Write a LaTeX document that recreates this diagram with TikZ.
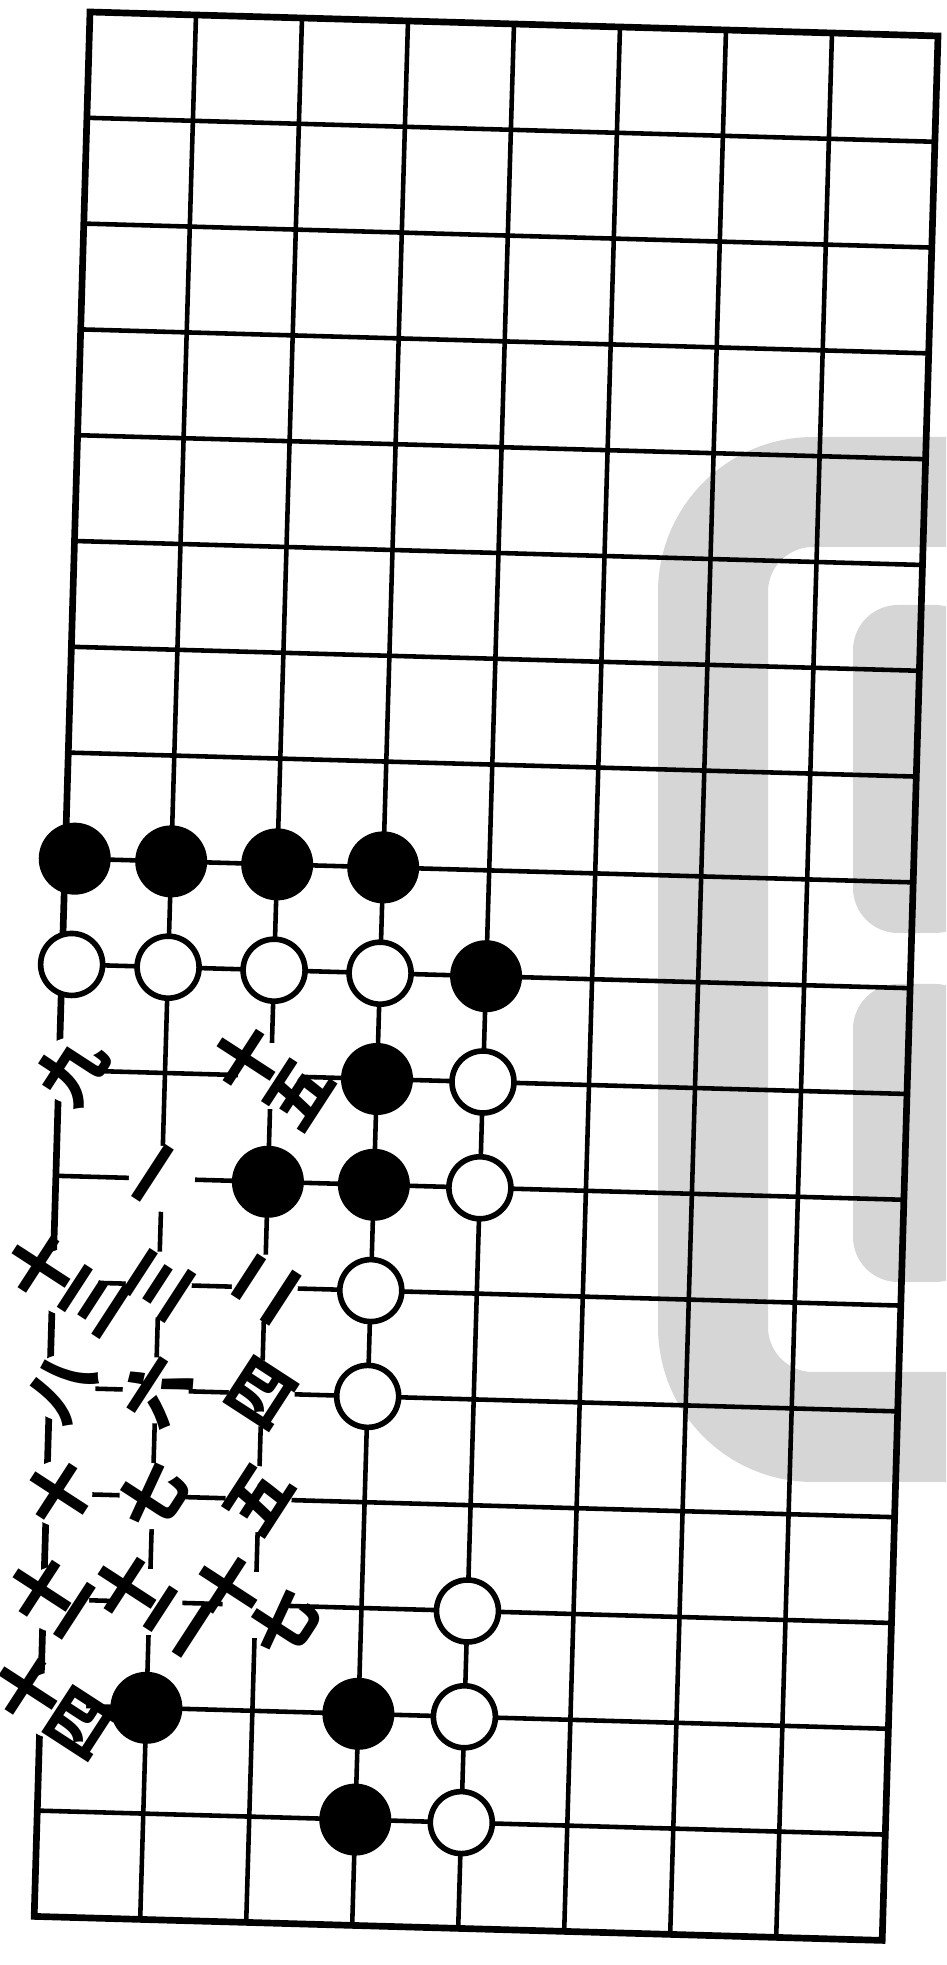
\documentclass[tikz,border=0pt]{standalone}
\usepackage{fontspec}
\newfontfamily\cjk{Noto Sans CJK SC}
\definecolor{stamp}{gray}{0.84}
\tikzset{
  gridline/.style={line width=1.3pt},
  blackstone/.style={circle,fill=black,minimum size=0.72cm,inner sep=0pt},
  whitestone/.style={circle,draw=black,line width=1.6pt,fill=white,minimum size=0.62cm,inner sep=0pt},
  movebg/.style={circle,fill=white,inner sep=0pt,minimum size=0.66cm},
  movenum/.style={inner sep=0pt,align=center,
    font=\cjk\bfseries\fontsize{19}{11}\selectfont,rotate=57},
}
\begin{document}
\begin{tikzpicture}
  \useasboundingbox (0,0) rectangle (9.46,19.65);
  % watermark behind the board
  \begin{scope}
    \clip (0,0) rectangle (9.46,19.65);
    \draw[stamp,line width=1.1cm,rounded corners=1cm] (9.6,14.73) -- (7.13,14.73) -- (7.13,5.38) -- (9.6,5.38);
    \fill[stamp,rounded corners=0.45cm] (9.8,13.6) -- (8.53,13.6) -- (8.53,10.32) -- (9.8,10.32) -- cycle;
    \fill[stamp,rounded corners=0.45cm] (9.8,9.81) -- (8.53,9.81) -- (8.53,6.83) -- (9.8,6.83) -- cycle;
  \end{scope}

  \begin{scope}[shift={(0.90,19.53)},x={(1.06cm,-0.03cm)},y={(-0.031cm,-1.058cm)}]
    \foreach \r in {0,...,18}
      \draw[gridline] (0,\r) -- (8,\r);
    \foreach \c in {0,...,8}
      \draw[gridline] (\c,0) -- (\c,18);
    \draw[line width=1.9pt] (0,0) -- (8,0) -- (8,18) -- (0,18) -- cycle;

    % numbered moves: clear the lines, then the stones, then the numbers
    \foreach \c/\r [evaluate=\c as \x using {\c+0.12*(1-min(\c,1))}] in
        {0/10,2/10,1/11,0/12,1/12,2/12,0/13,1/13,2/13,0/14,1/14,2/14,0/15,1/15,2/15,0/16}
      \node[movebg] (m\c-\r) at (\x,\r) {};
    \foreach \c/\r [evaluate=\c as \x using {\c+0.09*(1-min(\c,1))}] in
        {0/8,1/8,2/8,3/8,4/9,3/10,2/11,3/11,1/16,3/16,3/17}
      \node[blackstone] (b\c-\r) at (\x,\r) {};
    \foreach \c/\r [evaluate=\c as \x using {\c+0.09*(1-min(\c,1))}] in
        {0/9,1/9,2/9,3/9,4/10,4/11,3/12,3/13,4/15,4/16,4/17}
      \node[whitestone] (w\c-\r) at (\x,\r) {};
    \foreach \c/\r/\t in {0/10/九,2/10/十\\五,1/11/一,0/12/十\\三,1/12/三,2/12/二,
        0/13/八,1/13/六,2/13/四,0/14/十,1/14/七,2/14/五,
        0/15/十\\一,1/15/十\\二,2/15/十\\七,0/16/十\\四}
      \node[movenum] (n\c-\r) at (m\c-\r) {\t};
  \end{scope}
\end{tikzpicture}
\end{document}
